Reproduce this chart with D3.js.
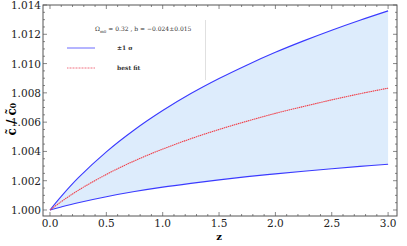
<!DOCTYPE html>
<html>
<head>
<meta charset="utf-8">
<script src="https://cdn.jsdelivr.net/npm/d3@7/dist/d3.min.js"></script>
<style>
  body { margin: 0; background: #fff; }
  svg { display: block; }
</style>
</head>
<body>
<div id="chart"></div>
<script>
// data
var zVals     = [0, 0.1, 0.25, 0.5, 0.75, 1.0, 1.25, 1.5, 1.75, 2.0, 2.25, 2.5, 2.75, 3.0];
var upperVals = [1.0, 1.00093, 1.00219, 1.00397, 1.00548, 1.00679, 1.00795, 1.00898, 1.00991, 1.01077, 1.01155, 1.01228, 1.01296, 1.0136];
var bestVals  = [1.0, 1.00057, 1.00134, 1.00243, 1.00336, 1.00416, 1.00487, 1.0055, 1.00607, 1.0066, 1.00707, 1.00752, 1.00794, 1.00832];
var lowerVals = [1.0, 1.00021, 1.0005, 1.00091, 1.00126, 1.00156, 1.00182, 1.00206, 1.00228, 1.00247, 1.00265, 1.00282, 1.00298, 1.00312];
var xTicks = [0, 0.5, 1.0, 1.5, 2.0, 2.5, 3.0];
var yTicks = [1.000, 1.002, 1.004, 1.006, 1.008, 1.010, 1.012, 1.014];
var legendTitle = "b = \u22120.024\u00b10.015";
var legendItems = ["\u00b11 \u03c3", "best fit"];

var width = 407, height = 246;
var margin = {top: 5, right: 10, bottom: 30, left: 43};
var serif = "DejaVu Serif, serif";

var svg = d3.select("#chart").append("svg")
    .attr("width", width)
    .attr("height", height)
    .style("font-family", serif);

var x = d3.scaleLinear()
    .domain([-0.062, 3.079])
    .range([margin.left, width - margin.right]);

var y = d3.scaleLinear()
    .domain([0.99959, 1.014])
    .range([height - margin.bottom, margin.top]);

var data = zVals.map(function(z, i) {
    return {z: z, up: upperVals[i], best: bestVals[i], low: lowerVals[i]};
});

// shaded band
svg.append("path")
    .datum(data)
    .attr("fill", "#ddecfc")
    .attr("d", d3.area()
        .curve(d3.curveCatmullRom)
        .x(d => x(d.z))
        .y0(d => y(d.low))
        .y1(d => y(d.up)));

var line = function(key) {
    return d3.line().curve(d3.curveCatmullRom).x(d => x(d.z)).y(d => y(d[key]));
};

svg.append("path").datum(data)
    .attr("fill", "none").attr("stroke", "#3a3aff").attr("stroke-width", 1.1)
    .attr("d", line("up"));
svg.append("path").datum(data)
    .attr("fill", "none").attr("stroke", "#3a3aff").attr("stroke-width", 1.1)
    .attr("d", line("low"));
svg.append("path").datum(data)
    .attr("fill", "none").attr("stroke", "#f0404a").attr("stroke-width", 1.1)
    .attr("stroke-dasharray", "1.5,0.6")
    .attr("d", line("best"));

// frame with inward ticks on all sides
var frameColor = "#555";
var x0 = margin.left, x1 = width - margin.right;
var y0 = height - margin.bottom, y1 = margin.top;

svg.append("rect")
    .attr("x", x0).attr("y", y1)
    .attr("width", x1 - x0).attr("height", y0 - y1)
    .attr("fill", "none").attr("stroke", frameColor).attr("stroke-width", 1);

var minorX = d3.range(0, 3.05, 0.1);
var minorY = d3.range(1.0000, 1.01401, 0.0005);

var ticks = svg.append("g").attr("stroke", frameColor).attr("stroke-width", 0.7);
minorX.forEach(function(v) {
    var major = xTicks.some(t => Math.abs(t - v) < 1e-6);
    var len = major ? 4 : 2;
    ticks.append("line").attr("x1", x(v)).attr("x2", x(v)).attr("y1", y0).attr("y2", y0 - len);
    ticks.append("line").attr("x1", x(v)).attr("x2", x(v)).attr("y1", y1).attr("y2", y1 + len);
});
minorY.forEach(function(v) {
    var major = yTicks.some(t => Math.abs(t - v) < 1e-7);
    var len = major ? 4 : 2;
    ticks.append("line").attr("y1", y(v)).attr("y2", y(v)).attr("x1", x0).attr("x2", x0 + len);
    ticks.append("line").attr("y1", y(v)).attr("y2", y(v)).attr("x1", x1).attr("x2", x1 - len);
});

// tick labels
svg.append("g").selectAll("text").data(xTicks).enter().append("text")
    .attr("x", d => x(d)).attr("y", y0 + 11)
    .attr("text-anchor", "middle").attr("font-size", 10.5).attr("fill", "#222")
    .text(d => d3.format(".1f")(d));

svg.append("g").selectAll("text").data(yTicks).enter().append("text")
    .attr("x", x0 - 2).attr("y", d => y(d) + 4)
    .attr("text-anchor", "end").attr("font-size", 10.5).attr("fill", "#222")
    .text(d => d3.format(".3f")(d));

// axis titles
svg.append("text")
    .attr("x", x(1.5)).attr("y", 240)
    .attr("text-anchor", "middle").attr("font-size", 10).attr("font-weight", "bold")
    .text("z");

svg.append("text")
    .attr("transform", "translate(16," + y(1.0062) + ") rotate(-90)")
    .attr("text-anchor", "middle").attr("font-size", 12).attr("font-weight", "bold")
    .text("c\u0303 / c\u0303\u2080");

// legend
var lg = svg.append("g").attr("font-size", 6).attr("fill", "#333");
var title = lg.append("text").attr("x", 95).attr("y", 31);
title.append("tspan").text("\u03a9");
title.append("tspan").attr("font-size", 4).attr("dy", 1.5).text("m0");
title.append("tspan").attr("dy", -1.5).text(" = 0.32 , " + legendTitle);

svg.append("line").attr("x1", 67).attr("x2", 95).attr("y1", 48).attr("y2", 48)
    .attr("stroke", "#6a6aff").attr("stroke-width", 1);
svg.append("line").attr("x1", 67).attr("x2", 95).attr("y1", 68).attr("y2", 68)
    .attr("stroke", "#f07080").attr("stroke-width", 1).attr("stroke-dasharray", "1,0.5");
lg.append("text").attr("x", 117).attr("y", 50).attr("font-weight", "bold").text(legendItems[0]);
lg.append("text").attr("x", 117).attr("y", 70).attr("font-weight", "bold").text(legendItems[1]);

// faint vertical line in the legend area
svg.append("line").attr("x1", 205.5).attr("x2", 205.5).attr("y1", 20).attr("y2", 80)
    .attr("stroke", "#d8d8d8").attr("stroke-width", 0.8);
</script>
</body>
</html>
